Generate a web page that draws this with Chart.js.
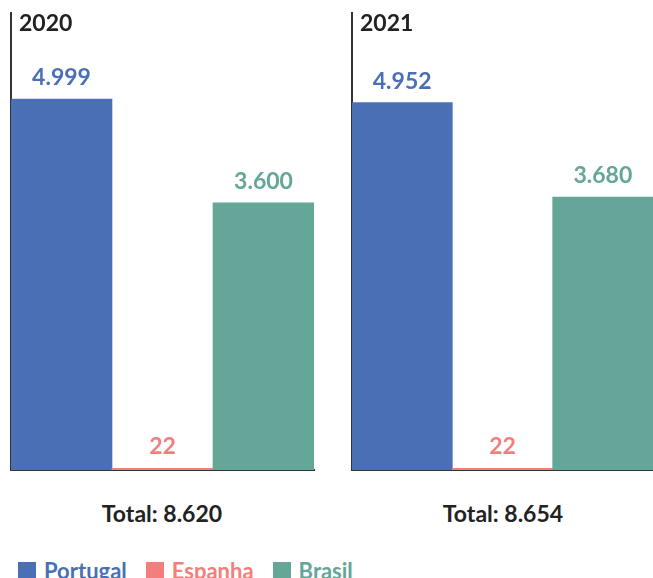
<!DOCTYPE html>
<html>
<head>
<meta charset="utf-8">
<script src="https://cdn.jsdelivr.net/npm/chart.js@4"></script>
<style>
  html, body { margin: 0; padding: 0; background: #fff; overflow: hidden; }
  body { width: 653px; height: 578px; position: relative; font-family: Lato, "Noto Sans", sans-serif; }
  .panel { position: absolute; top: 0; height: 480px; }
  .year { position: absolute; top: 8px; font-weight: 700; font-size: 23px; color: #222; }
  .total { position: absolute; top: 499px; width: 320px; text-align: center; font-weight: 700; font-size: 23px; color: #222; }
  .legend { position: absolute; left: 18px; top: 557px; display: flex; font-weight: 700; font-size: 22px; white-space: nowrap; }
  .legend span.item { display: flex; align-items: center; margin-right: 19px; }
  .legend i { display: inline-block; width: 18px; height: 18px; margin-right: 8px; }
</style>
</head>
<body>

<div class="panel" style="left:0;width:330px"><canvas id="c2020"></canvas></div>
<div class="panel" style="left:341px;width:312px"><canvas id="c2021"></canvas></div>

<div class="year" style="left:19px">2020</div>
<div class="year" style="left:360px">2021</div>

<div class="total" id="t0" style="left:2px"></div>
<div class="total" id="t1" style="left:343px"></div>

<div class="legend" id="legend"></div>

<script>
/* ── data ─────────────────────────────────────────── */
const countries  = ["Portugal", "Espanha", "Brasil"];
const years      = ["2020", "2021"];
const values2020 = [4999, 22, 3600];
const values2021 = [4952, 22, 3680];
const totals     = ["8.620", "8.654"];
const colors     = ["#4b6fb5", "#f47e7b", "#64a697"];
const yMax       = 6160;

const fmt = (v) => String(v).replace(/\B(?=(\d{3})+(?!\d))/g, ".");

// value labels above each bar
const valueLabels = {
  id: "valueLabels",
  afterDatasetsDraw(chart) {
    const ctx = chart.ctx;
    const meta = chart.getDatasetMeta(0);
    ctx.save();
    ctx.font = "700 23px Lato, 'Noto Sans', sans-serif";
    ctx.textAlign = "center";
    ctx.textBaseline = "alphabetic";
    meta.data.forEach((bar, i) => {
      ctx.fillStyle = colors[i];
      ctx.fillText(fmt(chart.data.datasets[0].data[i]), bar.x, bar.y - 14);
    });
    ctx.restore();
  },
};

function makeChart(id, values, padRight) {
  return new Chart(document.getElementById(id), {
    type: "bar",
    data: {
      labels: countries,
      datasets: [{
        data: values,
        backgroundColor: colors,
        borderWidth: 0,
        categoryPercentage: 1,
        barPercentage: 1,
      }],
    },
    options: {
      responsive: true,
      maintainAspectRatio: false,
      animation: false,
      layout: { padding: { left: 11, right: padRight, top: 13, bottom: 10 } },
      plugins: { legend: { display: false }, tooltip: { enabled: false } },
      scales: {
        x: {
          ticks: { display: false },
          grid: { display: false, drawTicks: false },
          border: { display: true, color: "#333", width: 2 },
        },
        y: {
          min: 0,
          max: yMax,
          ticks: { display: false },
          grid: { display: false, drawTicks: false },
          border: { display: true, color: "#333", width: 2 },
        },
      },
    },
    plugins: [valueLabels],
  });
}

makeChart("c2020", values2020, 16);
makeChart("c2021", values2021, 0);

document.getElementById("t0").textContent = "Total: " + totals[0];
document.getElementById("t1").textContent = "Total: " + totals[1];

const legend = document.getElementById("legend");
countries.forEach((name, i) => {
  const item = document.createElement("span");
  item.className = "item";
  item.style.color = colors[i];
  item.innerHTML = `<i style="background:${colors[i]}"></i>${name}`;
  legend.appendChild(item);
});
</script>
</body>
</html>
